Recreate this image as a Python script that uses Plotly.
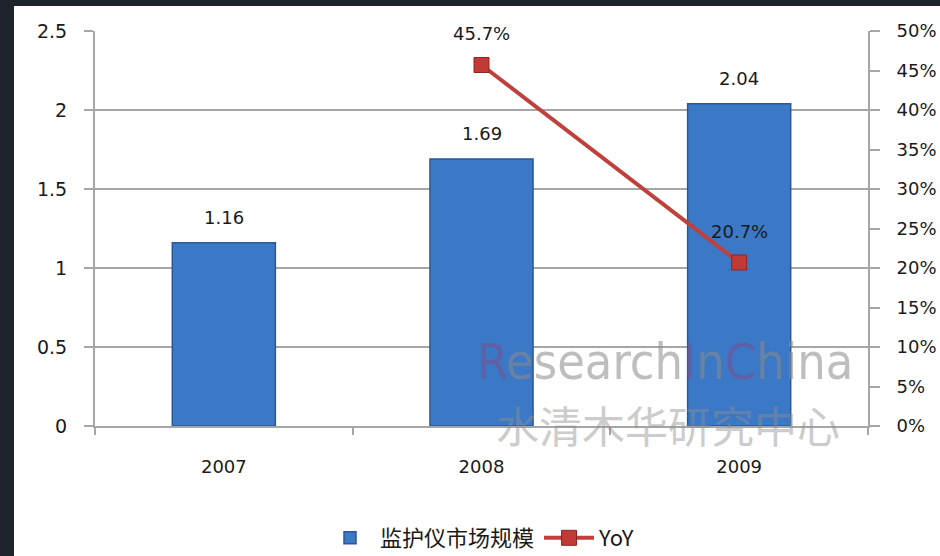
import plotly.graph_objects as go

years = ["2007", "2008", "2009"]
market_size = [1.16, 1.69, 2.04]
yoy = [None, 45.7, 20.7]
left_ticks = [0, 0.5, 1, 1.5, 2, 2.5]
right_ticks = [0, 5, 10, 15, 20, 25, 30, 35, 40, 45, 50]

W, H = 940, 556
ML, MR, MT, MB = 95, 72, 31, 130
PW, PH = W - ML - MR, H - MT - MB

TXT = "#1a1a1a"
GRID = "#a6a6a6"
FONT = "DejaVu Sans, Verdana, sans-serif"

fig = go.Figure()
fig.add_trace(go.Bar(
    x=years, y=market_size, name="监护仪市场规模", width=0.4,
    marker=dict(color="#3b79c6", line=dict(color="#2a5896", width=1.5)),
    yaxis="y",
))
fig.add_trace(go.Scatter(
    x=years, y=yoy, name="YoY", mode="lines+markers", yaxis="y2",
    line=dict(color="#c0403c", width=4),
    marker=dict(symbol="square", size=15, color="#c23a36", line=dict(color="#8e2522", width=1)),
))

ann = []
for i, v in enumerate(market_size):
    ann.append(dict(x=i, y=v, xref="x", yref="y", text=f"{v:.2f}", showarrow=False,
                    yshift=25, font=dict(size=18, color=TXT, family=FONT)))
for i, v in enumerate(yoy):
    if v is not None:
        ann.append(dict(x=i, y=v, xref="x", yref="y2", text=f"{v:.1f}%", showarrow=False,
                        yshift=31, font=dict(size=18, color=TXT, family=FONT)))

# watermark
ann.append(dict(xref="paper", yref="paper", x=(665 - ML) / PW, y=(426 - 362) / PH,
                yanchor="middle", xanchor="center", showarrow=False, opacity=0.55,
                text=('<span style="color:#7b4f90">R</span>esearch<span style="color:#7b4f90">I</span>n'
                      '<span style="color:#7b4f90">C</span>hina'),
                font=dict(size=50, color="#8a8a8a", family="DejaVu Sans Condensed, Liberation Sans Narrow, DejaVu Sans")))
ann.append(dict(xref="paper", yref="paper", x=(668 - ML) / PW, y=(426 - 424) / PH,
                yanchor="middle", xanchor="center", showarrow=False, opacity=0.45,
                text="水清木华研究中心",
                font=dict(size=43, color="#8f8f8f", family="Noto Sans CJK SC")))

shapes = [
    dict(type="rect", xref="paper", yref="paper", layer="below",
         x0=-ML / PW, x1=-(ML - 14) / PW, y0=-MB / PH, y1=1 + MT / PH,
         fillcolor="#1f232b", line=dict(width=0)),
    dict(type="rect", xref="paper", yref="paper", layer="below",
         x0=-ML / PW, x1=1 + MR / PW, y0=1 + (MT - 6) / PH, y1=1 + MT / PH,
         fillcolor="#1f232b", line=dict(width=0)),
]

fig.update_layout(
    width=W, height=H,
    margin=dict(l=ML, r=MR, t=MT, b=MB, pad=0, autoexpand=False),
    paper_bgcolor="white", plot_bgcolor="white",
    font=dict(family=FONT, color=TXT, size=18),
    bargap=0.6,
    showlegend=True,
    legend=dict(orientation="h", x=(480 - ML) / PW, xanchor="center",
                y=-(538 - 426) / PH, yanchor="middle",
                font=dict(size=22, family="Noto Sans CJK SC, DejaVu Sans", color=TXT),
                itemwidth=50, bgcolor="rgba(0,0,0,0)"),
    xaxis=dict(type="category", range=[-0.5, 2.5], showline=True, linecolor=GRID, linewidth=2,
               ticks="outside", tickson="boundaries", ticklen=7, tickcolor=GRID, tickwidth=2,
               ticklabelstandoff=23, tickfont=dict(size=18), showgrid=False),
    yaxis=dict(range=[0, 2.5], tickvals=left_ticks, ticktext=[f"{t:g}" for t in left_ticks],
               showgrid=True, gridcolor=GRID, gridwidth=2, showline=True, linecolor=GRID, linewidth=2,
               ticks="outside", ticklen=9, tickcolor=GRID, tickwidth=2, ticklabelstandoff=13,
               tickfont=dict(size=19), zeroline=False),
    yaxis2=dict(range=[0, 50], overlaying="y", side="right", tickvals=right_ticks,
                ticktext=[f"{t}%" for t in right_ticks], showgrid=False, showline=True,
                linecolor=GRID, linewidth=2, ticks="outside", ticklen=10, tickcolor=GRID, tickwidth=2,
                ticklabelstandoff=13, tickfont=dict(size=18), zeroline=False),
    annotations=ann,
    shapes=shapes,
)

fig.write_html("out.html", config={"displayModeBar": False},
               post_script="document.body.style.margin='0';document.body.style.overflow='hidden';")
